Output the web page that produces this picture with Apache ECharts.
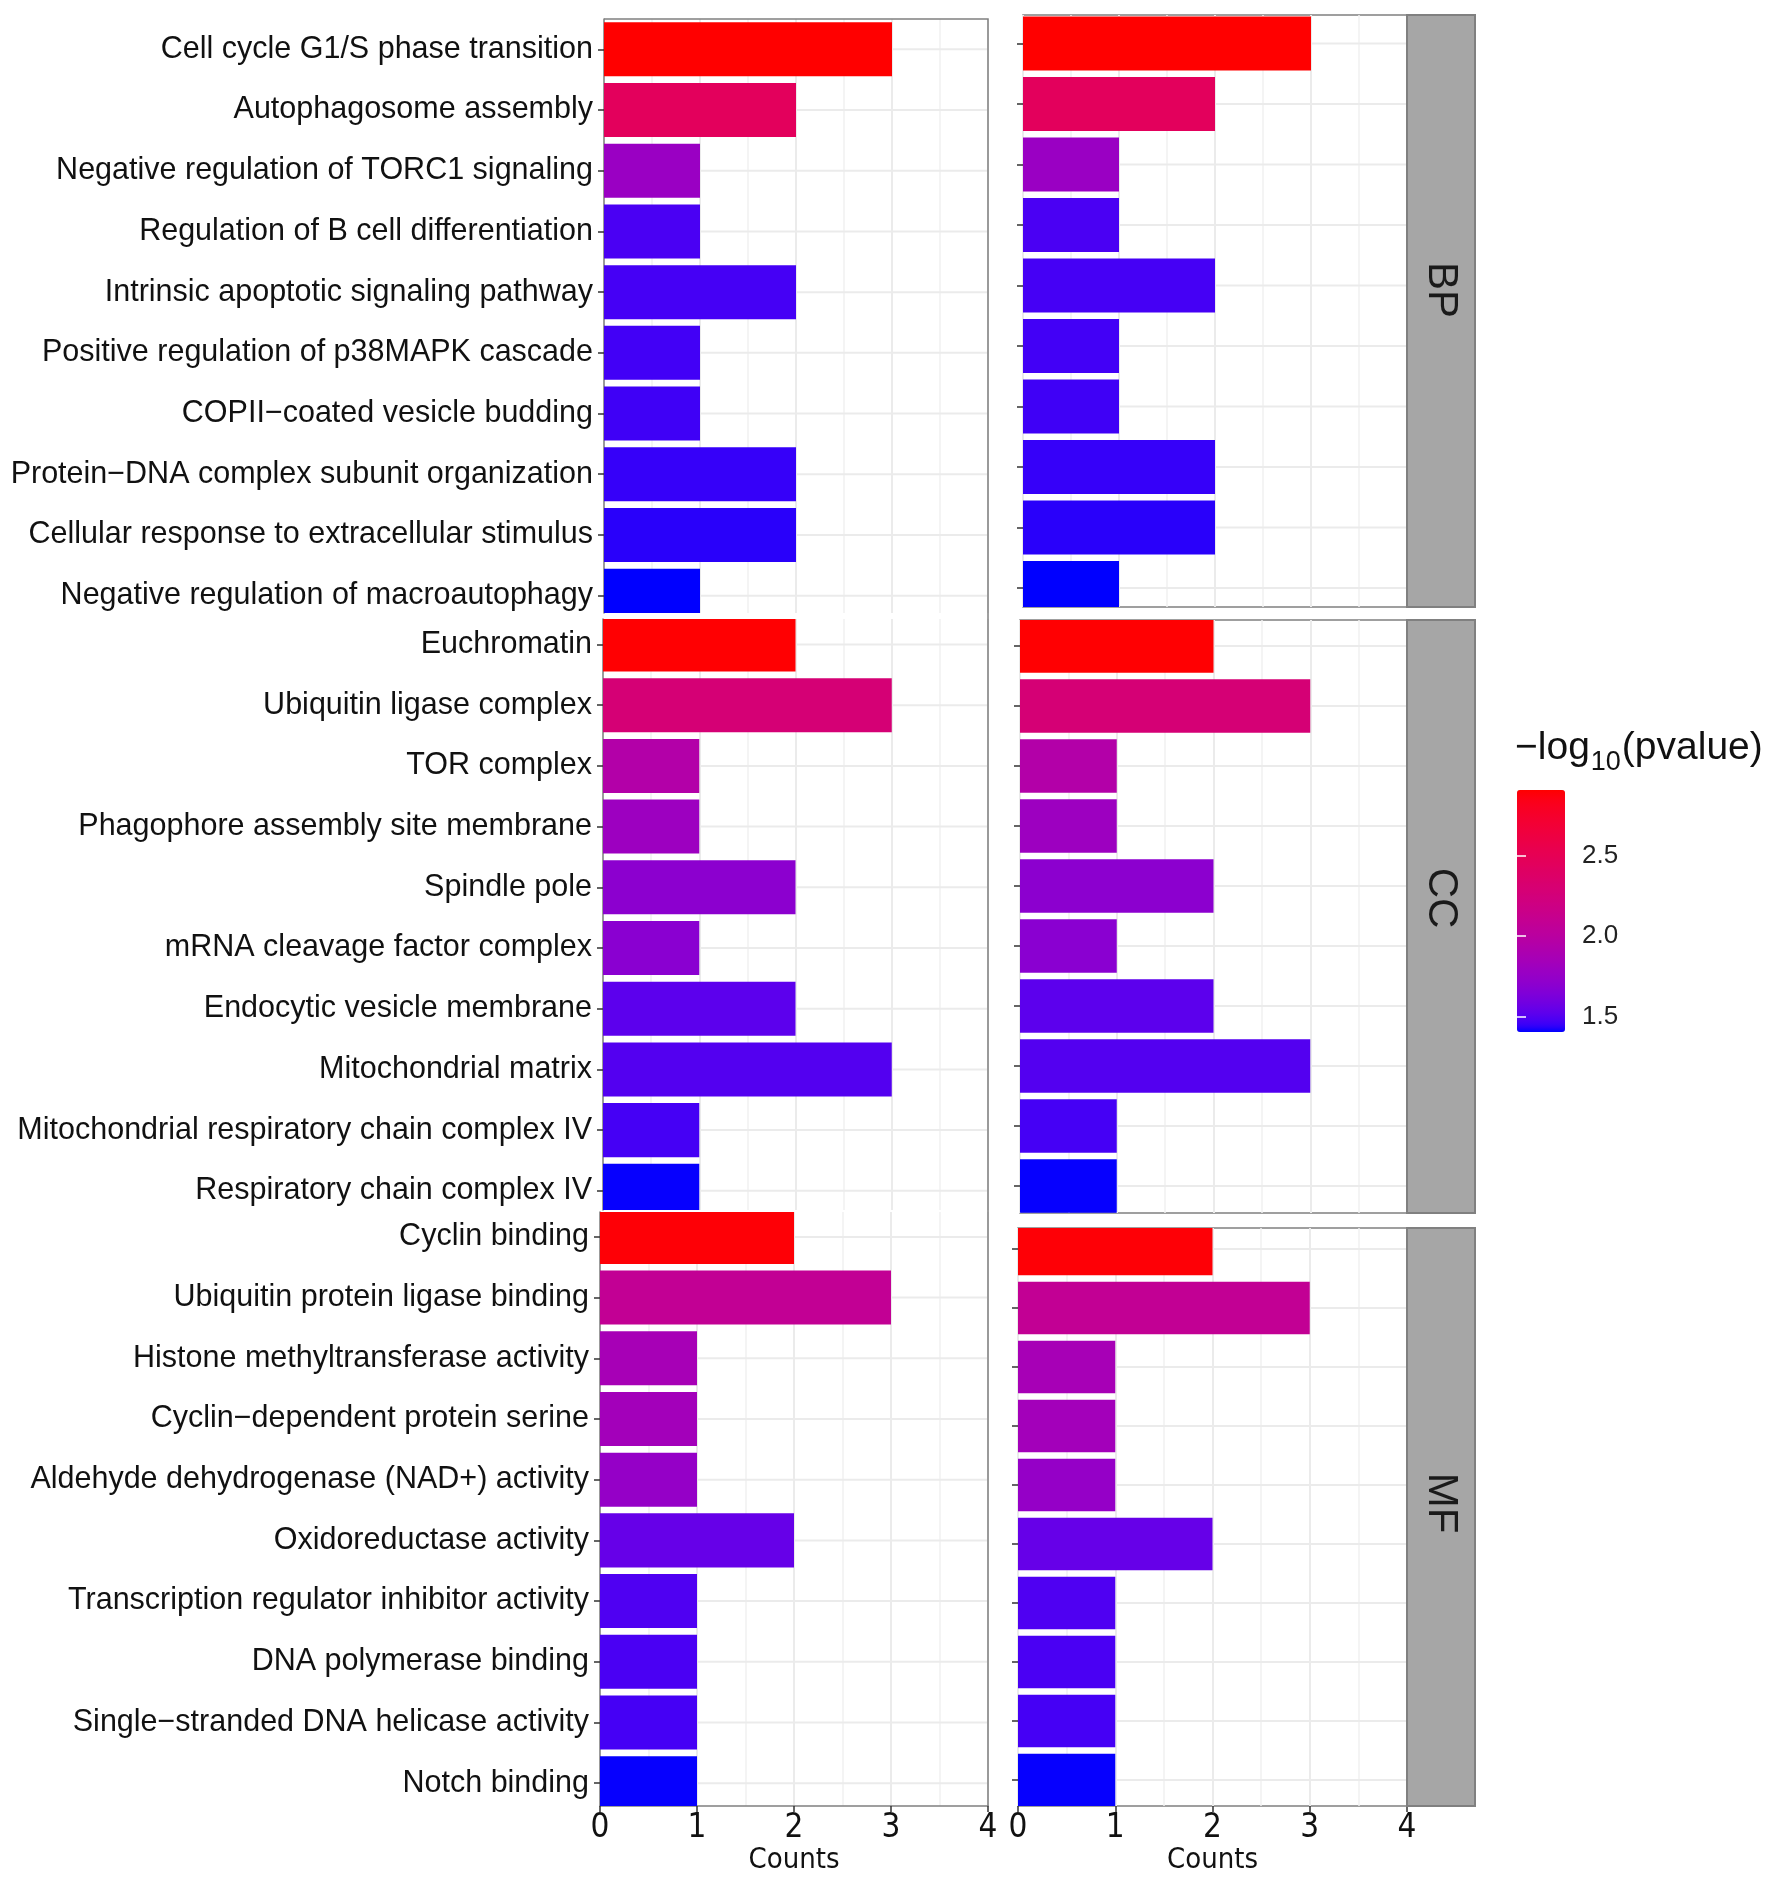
<!DOCTYPE html>
<html>
<head>
<meta charset="utf-8">
<script src="https://cdn.jsdelivr.net/npm/echarts@6/dist/echarts.min.js"></script>
<style>
html,body{margin:0;padding:0;background:#fff;}
#chart{width:1772px;height:1880px;}
</style>
</head>
<body>
<div id="chart"></div>
<script>
// ---------------- DATA ----------------
const facets = ['BP', 'CC', 'MF'];

const bpTerms = ['Cell cycle G1/S phase transition', 'Autophagosome assembly', 'Negative regulation of TORC1 signaling',
  'Regulation of B cell differentiation', 'Intrinsic apoptotic signaling pathway', 'Positive regulation of p38MAPK cascade',
  'COPII\u2212coated vesicle budding', 'Protein\u2212DNA complex subunit organization', 'Cellular response to extracellular stimulus',
  'Negative regulation of macroautophagy'];
const bpCounts = [3, 2, 1, 1, 2, 1, 1, 2, 2, 1];
const bpLogP = [2.906, 2.45, 1.78, 1.48, 1.47, 1.465, 1.46, 1.445, 1.435, 1.406];

const ccTerms = ['Euchromatin', 'Ubiquitin ligase complex', 'TOR complex', 'Phagophore assembly site membrane', 'Spindle pole',
  'mRNA cleavage factor complex', 'Endocytic vesicle membrane', 'Mitochondrial matrix',
  'Mitochondrial respiratory chain complex IV', 'Respiratory chain complex IV'];
const ccCounts = [2, 3, 1, 1, 2, 1, 2, 3, 1, 1];
const ccLogP = [2.9, 2.28, 1.95, 1.8, 1.7, 1.69, 1.52, 1.5, 1.47, 1.41];

const mfTerms = ['Cyclin binding', 'Ubiquitin protein ligase binding', 'Histone methyltransferase activity',
  'Cyclin\u2212dependent protein serine', 'Aldehyde dehydrogenase (NAD+) activity', 'Oxidoreductase activity',
  'Transcription regulator inhibitor activity', 'DNA polymerase binding', 'Single\u2212stranded DNA helicase activity',
  'Notch binding'];
const mfCounts = [2, 3, 1, 1, 1, 2, 1, 1, 1, 1];
const mfLogP = [2.89, 2.08, 1.86, 1.84, 1.75, 1.55, 1.49, 1.48, 1.47, 1.41];

const xTicks = [0, 1, 2, 3, 4];
const colorTicks = [1.5, 2.0, 2.5];
const xTitle = 'Counts';

// ---------------- COLOUR SCALE (Lab interpolation, blue -> red) ----------------
function s2l(c) { c /= 255; return c <= 0.04045 ? c / 12.92 : Math.pow((c + 0.055) / 1.055, 2.4); }
function l2s(c) { c = Math.max(0, Math.min(1, c)); return c <= 0.0031308 ? 12.92 * c : 1.055 * Math.pow(c, 1 / 2.4) - 0.055; }
function toLab(rgb) {
  const R = s2l(rgb[0]), G = s2l(rgb[1]), B = s2l(rgb[2]);
  const X = (0.4124 * R + 0.3576 * G + 0.1805 * B) / 0.95047;
  const Y = (0.2126 * R + 0.7152 * G + 0.0722 * B);
  const Z = (0.0193 * R + 0.1192 * G + 0.9505 * B) / 1.08883;
  const f = t => t > 0.008856 ? Math.cbrt(t) : 7.787 * t + 16 / 116;
  const fx = f(X), fy = f(Y), fz = f(Z);
  return [116 * fy - 16, 500 * (fx - fy), 200 * (fy - fz)];
}
function fromLab(lab) {
  const fy = (lab[0] + 16) / 116, fx = fy + lab[1] / 500, fz = fy - lab[2] / 200;
  const fi = t => (t * t * t > 0.008856) ? t * t * t : (t - 16 / 116) / 7.787;
  const X = 0.95047 * fi(fx), Y = fi(fy), Z = 1.08883 * fi(fz);
  const R = 3.2406 * X - 1.5372 * Y - 0.4986 * Z;
  const G = -0.9689 * X + 1.8758 * Y + 0.0415 * Z;
  const B = 0.0557 * X - 0.2040 * Y + 1.0570 * Z;
  return 'rgb(' + [R, G, B].map(v => Math.round(l2s(v) * 255)).join(',') + ')';
}
const labLow = toLab([0, 0, 255]), labHigh = toLab([255, 0, 0]);
const rampColors = [];
for (let k = 0; k <= 40; k++) {
  const t = k / 40;
  rampColors.push(fromLab([0, 1, 2].map(j => labLow[j] + (labHigh[j] - labLow[j]) * t)));
}

const allLogP = bpLogP.concat(ccLogP, mfLogP);
const vMin = Math.min.apply(null, allLogP);
const vMax = Math.max.apply(null, allLogP);

// ---------------- LAYOUT ----------------
const panels = [
  { terms: bpTerms, counts: bpCounts, logp: bpLogP },
  { terms: ccTerms, counts: ccCounts, logp: ccLogP },
  { terms: mfTerms, counts: mfCounts, logp: mfLogP }
];
// panel rectangles and visible category window (in category-index units) of each panel
const gridBoxes = [
  { left: 604, top: 19, width: 384, height: 594, yr: [-0.50, 9.286] },
  { left: 603, top: 619, width: 385, height: 591, yr: [-0.42, 9.316] },
  { left: 600, top: 1212, width: 388, height: 594, yr: [-0.41, 9.376] },
  { left: 1023, top: 15, width: 384, height: 592, yr: [-0.471, 9.314] },
  { left: 1020, top: 620, width: 387, height: 593, yr: [-0.433, 9.45] },
  { left: 1018, top: 1228, width: 389, height: 578, yr: [-0.356, 9.44] }
];
const barHalf = 0.445;
const labelFont = "'Liberation Sans', Arial, sans-serif";
const narrowFont = "'Liberation Sans Narrow', 'Arial Narrow', 'DejaVu Sans Condensed', 'Liberation Sans', sans-serif";
const frameColor = '#808080';

const grids = [], xAxes = [], yAxes = [], series = [];
const barSeriesIdx = [];

gridBoxes.forEach((g, i) => {
  const isLeft = i < 3;
  const p = panels[i % 3];
  const isBottom = (i % 3) === 2;
  const idx = p.terms.map((t, k) => k);
  grids.push({
    left: g.left, top: g.top, width: g.width, height: g.height,
    containLabel: false,
    show: !isLeft,
    borderColor: frameColor,
    borderWidth: 1.5,
    backgroundColor: 'transparent'
  });
  xAxes.push({
    type: 'value', gridIndex: i, position: 'bottom',
    min: xTicks[0], max: xTicks[xTicks.length - 1], interval: 1,
    axisLine: { show: isBottom && isLeft, onZero: false, lineStyle: { color: frameColor, width: 1.5 } },
    axisTick: { show: isBottom, length: 6, lineStyle: { color: '#333', width: 1.5 } },
    axisLabel: { show: isBottom, fontSize: 33, color: '#111', fontFamily: narrowFont, margin: 6 },
    splitLine: { show: true, lineStyle: { color: '#ebebeb', width: 2 } },
    minorTick: { show: false, splitNumber: 2 },
    minorSplitLine: { show: true, lineStyle: { color: '#f1f1f1', width: 1.5 } },
    name: isBottom ? xTitle : '',
    nameLocation: 'middle', nameGap: 40,
    nameTextStyle: { fontSize: 29, color: '#111', fontFamily: narrowFont }
  });
  yAxes.push({
    type: 'value', gridIndex: i, inverse: true, position: 'left',
    min: g.yr[0], max: g.yr[1],
    axisLine: { show: isLeft, onZero: false, lineStyle: { color: frameColor, width: 1.5 } },
    axisTick: { show: true, customValues: idx, length: 6, lineStyle: { color: '#333', width: 1.5 } },
    axisLabel: { show: isLeft, customValues: idx, formatter: v => p.terms[Math.round(v)] || '',
      fontSize: 30.5, color: '#111', fontFamily: labelFont, margin: 11 },
    splitLine: { show: false }
  });
  // horizontal panel grid lines at category centres
  series.push({
    type: 'custom', xAxisIndex: i, yAxisIndex: i, z: 1, silent: true,
    data: idx.map(k => [xTicks[xTicks.length - 1], k]),
    encode: { x: 0, y: 1 },
    renderItem: function (params, api) {
      const c = api.value(1);
      const a = api.coord([xTicks[0], c]);
      const b = api.coord([xTicks[xTicks.length - 1], c]);
      return { type: 'line', shape: { x1: a[0], y1: a[1], x2: b[0], y2: b[1] },
        style: { stroke: '#ebebeb', lineWidth: 2 } };
    }
  });
  // bars
  barSeriesIdx.push(series.length);
  series.push({
    type: 'custom', xAxisIndex: i, yAxisIndex: i, z: 3,
    data: idx.map(k => [p.counts[k], k, p.logp[k]]),
    encode: { x: 0, y: 1 },
    renderItem: function (params, api) {
      const c = api.value(1);
      const a = api.coord([0, c - barHalf]);
      const b = api.coord([api.value(0), c + barHalf]);
      const rect = echarts.graphic.clipRectByRect(
        { x: a[0], y: Math.min(a[1], b[1]), width: b[0] - a[0], height: Math.abs(b[1] - a[1]) },
        { x: params.coordSys.x, y: params.coordSys.y, width: params.coordSys.width, height: params.coordSys.height }
      );
      if (!rect) return null;
      return { type: 'rect', shape: rect, style: { fill: api.visual('color') } };
    }
  });
});

// colourbar axis grid
grids.push({ left: 1517, top: 790, width: 48, height: 242, show: false });
xAxes.push({ type: 'value', gridIndex: 6, show: false, min: 0, max: 1 });
yAxes.push({
  type: 'value', gridIndex: 6, position: 'right', min: vMin, max: vMax, z: 10,
  axisLine: { show: false }, splitLine: { show: false },
  axisTick: { show: true, inside: true, length: 9, customValues: colorTicks, lineStyle: { color: '#ffffff', width: 1.5 } },
  axisLabel: { show: true, customValues: colorTicks, formatter: v => v.toFixed(1), margin: 17,
    fontSize: 26, color: '#222', fontFamily: labelFont }
});
yAxes.push({
  type: 'value', gridIndex: 6, position: 'left', min: vMin, max: vMax, z: 10,
  axisLine: { show: false }, splitLine: { show: false },
  axisTick: { show: true, inside: true, length: 9, customValues: colorTicks, lineStyle: { color: '#ffffff', width: 1.5 } },
  axisLabel: { show: false }
});

// graphics: left frame, facet strips, legend title
const graphics = [];
graphics.push({
  type: 'polyline', silent: true, z: 20,
  shape: { points: [[604, 19], [988, 19], [988, 1806]] },
  style: { stroke: frameColor, lineWidth: 1.5, fill: null }
});
const stripText = [{ y: 290 }, { y: 898 }, { y: 1503 }];
facets.forEach((f, k) => {
  const g = gridBoxes[3 + k];
  graphics.push({
    type: 'rect', silent: true, z: 20,
    shape: { x: 1407, y: g.top, width: 68, height: g.height },
    style: { fill: '#a6a6a6', stroke: frameColor, lineWidth: 2 }
  });
  graphics.push({
    type: 'text', silent: true, z: 21,
    x: 1441, y: stripText[k].y, rotation: -Math.PI / 2,
    style: { text: f, fontSize: 42, fill: '#1a1a1a', fontFamily: labelFont, align: 'center', verticalAlign: 'middle' }
  });
});
graphics.push({
  type: 'text', silent: true, z: 21, x: 1515, y: 729,
  style: {
    text: '{a|\u2212log}{b|10}{a|(pvalue)}',
    fontFamily: labelFont, fill: '#111',
    rich: {
      a: { fontSize: 39, lineHeight: 45, fontFamily: labelFont, fill: '#111', verticalAlign: 'top' },
      b: { fontSize: 27, lineHeight: 30, fontFamily: labelFont, fill: '#111', verticalAlign: 'top', padding: [20, 1, 0, 1] }
    }
  }
});

const chart = echarts.init(document.getElementById('chart'), null, { renderer: 'canvas' });
chart.setOption({
  backgroundColor: '#ffffff',
  animation: false,
  grid: grids,
  xAxis: xAxes,
  yAxis: yAxes,
  visualMap: {
    type: 'continuous',
    seriesIndex: barSeriesIdx,
    dimension: 2,
    min: vMin, max: vMax,
    inRange: { color: rampColors },
    orient: 'vertical',
    left: 1517, top: 790,
    itemWidth: 48, itemHeight: 242,
    padding: 0,
    calculable: false,
    hoverLink: false,
    text: null,
    show: true
  },
  series: series,
  graphic: graphics
});
</script>
</body>
</html>
